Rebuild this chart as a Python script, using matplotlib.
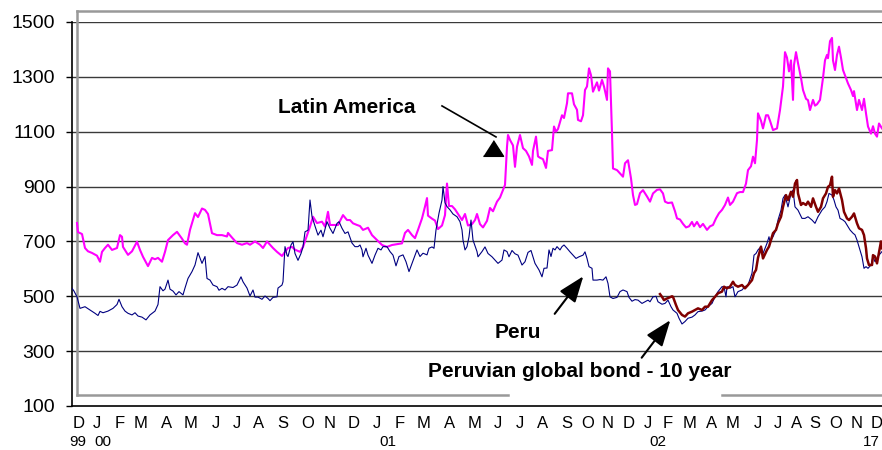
import matplotlib.pyplot as plt

plt.rcParams['font.family'] = ['Liberation Sans', 'DejaVu Sans']

# trading-day index and spread (bp) for each series
latam_day = [5, 6, 10, 13, 16, 20, 25, 28, 30, 33, 36, 40, 45, 48, 50, 51, 56, 60, 65, 68,
             71, 76, 80, 83, 86, 90, 93, 96, 101, 105, 110, 113, 115, 118, 123, 126, 130, 133, 136, 140,
             145, 148, 150, 155, 156, 160, 165, 170, 175, 178, 183, 188, 191, 195, 198, 201, 205, 210, 213, 216,
             220, 223, 228, 231, 235, 238, 241, 245, 250, 253, 256, 258, 261, 266, 271, 275, 278, 281, 285, 288,
             291, 293, 296, 300, 305, 310, 315, 320, 325, 330, 333, 336, 340, 343, 346, 350, 353, 355, 356, 360,
             363, 366, 370, 373, 375, 377, 380, 383, 386, 390, 393, 396, 400, 403, 405, 408, 411, 415, 418, 421,
             425, 428, 431, 433, 435, 436, 438, 441, 443, 445, 448, 451, 454, 457, 460, 461, 464, 466, 468, 471,
             474, 476, 480, 482, 484, 486, 490, 492, 495, 496, 500, 502, 505, 506, 509, 511, 513, 515, 517, 519,
             521, 525, 527, 530, 532, 535, 536, 538, 540, 541, 545, 548, 551, 553, 556, 559, 561, 563, 565, 568,
             571, 575, 578, 581, 585, 588, 591, 593, 596, 600, 603, 605, 608, 611, 614, 617, 620, 622, 625, 628,
             631, 635, 638, 641, 644, 647, 650, 653, 656, 658, 661, 665, 668, 671, 674, 676, 679, 681, 683, 685,
             686, 689, 691, 694, 696, 698, 701, 705, 708, 711, 713, 715, 717, 719, 721, 722, 724, 726, 729, 731,
             734, 736, 738, 741, 743, 745, 748, 751, 753, 755, 756, 758, 760, 761, 763, 765, 767, 769, 771, 774,
             776, 779, 781, 782, 785, 787, 790, 792, 794, 796, 799, 801, 803, 805, 807, 810]
latam_bp = [767, 734, 727, 676, 664, 658, 648, 626, 662, 676, 688, 669, 676, 723, 717, 680, 651, 664, 699, 669,
            644, 610, 640, 635, 640, 626, 662, 705, 723, 735, 710, 693, 688, 742, 803, 789, 820, 815, 800, 730,
            723, 723, 723, 718, 731, 714, 694, 688, 694, 688, 700, 688, 676, 700, 688, 676, 662, 647, 662, 676,
            680, 670, 662, 680, 723, 754, 790, 767, 772, 754, 808, 760, 760, 760, 796, 778, 778, 766, 760, 756,
            742, 745, 750, 723, 705, 687, 680, 687, 690, 693, 731, 742, 723, 712, 742, 784, 827, 858, 794, 783,
            776, 745, 758, 796, 911, 829, 829, 817, 800, 778, 800, 758, 763, 778, 800, 763, 751, 775, 822, 810,
            845, 860, 888, 906, 1045, 1088, 1070, 1050, 972, 1045, 1088, 1040, 1030, 1010, 979, 1030, 1082, 1010, 1005, 1000,
            968, 1030, 1033, 1119, 1100, 1110, 1160, 1150, 1204, 1240, 1240, 1200, 1180, 1143, 1138, 1160, 1252, 1265, 1331, 1306,
            1246, 1280, 1250, 1289, 1265, 1216, 1331, 1320, 1095, 966, 960, 948, 936, 985, 996, 930, 869, 833, 836, 876,
            887, 864, 845, 875, 888, 890, 875, 845, 840, 842, 810, 784, 780, 764, 751, 755, 771, 755, 771, 752,
            764, 742, 755, 760, 784, 803, 815, 833, 860, 833, 845, 876, 880, 880, 911, 960, 974, 1009, 985, 1070,
            1167, 1140, 1112, 1160, 1160, 1140, 1106, 1112, 1179, 1265, 1390, 1370, 1320, 1360, 1216, 1343, 1390, 1350, 1296, 1252,
            1220, 1215, 1179, 1216, 1195, 1200, 1216, 1296, 1360, 1380, 1368, 1430, 1442, 1360, 1325, 1380, 1410, 1370, 1325, 1296,
            1276, 1252, 1230, 1248, 1179, 1216, 1179, 1220, 1167, 1119, 1093, 1120, 1093, 1082, 1130, 1112]

peru_day = [0, 2, 5, 8, 13, 18, 23, 26, 28, 31, 36, 41, 45, 47, 50, 53, 56, 60, 63, 66,
            70, 74, 78, 83, 86, 88, 91, 93, 96, 98, 101, 104, 107, 111, 113, 116, 120, 123, 126, 130,
            133, 135, 138, 141, 145, 147, 150, 153, 156, 161, 165, 169, 171, 175, 178, 181, 183, 186, 190, 193,
            196, 198, 201, 205, 206, 210, 211, 213, 215, 216, 219, 221, 223, 226, 229, 231, 233, 236, 238, 240,
            243, 246, 249, 251, 255, 258, 261, 265, 267, 270, 273, 276, 280, 283, 286, 288, 290, 291, 294, 296,
            300, 303, 306, 309, 311, 315, 318, 321, 324, 327, 331, 334, 337, 340, 343, 345, 348, 351, 355, 357,
            360, 362, 364, 367, 370, 371, 373, 375, 378, 381, 385, 388, 390, 391, 393, 395, 397, 399, 401, 405,
            406, 410, 413, 416, 420, 423, 426, 430, 432, 435, 437, 440, 443, 446, 450, 453, 456, 459, 461, 463,
            465, 467, 470, 472, 475, 477, 479, 481, 483, 485, 488, 490, 492, 495, 498, 501, 504, 507, 511, 513,
            515, 517, 520, 521, 525, 528, 531, 534, 536, 538, 541, 545, 548, 551, 555, 557, 560, 563, 566, 570,
            573, 576, 578, 581, 584, 586, 590, 593, 596, 599, 601, 605, 607, 610, 613, 616, 620, 623, 626, 630,
            633, 636, 640, 643, 646, 650, 652, 654, 655, 658, 661, 663, 666, 670, 673, 676, 680, 682, 684, 686,
            689, 691, 695, 697, 698, 701, 704, 706, 709, 711, 713, 715, 716, 719, 721, 723, 726, 730, 733, 736,
            740, 743, 746, 750, 753, 755, 757, 760, 762, 764, 766, 768, 771, 773, 775, 778, 781, 783, 785, 787,
            790, 792, 794, 796, 799, 801, 803, 805, 807, 810]
peru_bp = [529, 519, 498, 456, 462, 450, 438, 430, 445, 440, 446, 456, 470, 489, 462, 446, 438, 432, 440, 428,
           424, 414, 432, 446, 470, 535, 520, 526, 559, 526, 519, 505, 517, 505, 530, 565, 590, 614, 659, 620,
           645, 565, 559, 541, 535, 522, 529, 523, 535, 532, 541, 571, 553, 530, 501, 523, 497, 497, 489, 501,
           492, 484, 496, 498, 530, 541, 553, 681, 650, 645, 687, 699, 656, 631, 656, 680, 735, 741, 851, 791,
           756, 723, 741, 717, 772, 748, 729, 766, 772, 748, 729, 735, 694, 681, 681, 687, 669, 644, 675, 650,
           620, 650, 675, 669, 681, 681, 663, 650, 611, 645, 651, 626, 590, 620, 651, 669, 645, 657, 651, 675,
           680, 675, 742, 803, 851, 900, 841, 827, 815, 800, 790, 772, 742, 705, 669, 681, 717, 778, 705, 663,
           644, 663, 680, 656, 644, 632, 620, 632, 669, 663, 644, 667, 655, 650, 614, 626, 660, 667, 644, 620,
           608, 596, 571, 602, 603, 669, 645, 675, 669, 681, 669, 681, 687, 675, 662, 650, 638, 644, 650, 662,
           638, 608, 602, 559, 559, 561, 559, 571, 547, 498, 492, 496, 517, 523, 517, 496, 482, 488, 486, 474,
           480, 486, 480, 498, 500, 480, 471, 474, 486, 462, 450, 438, 420, 399, 408, 420, 424, 432, 444, 446,
           450, 462, 474, 498, 517, 535, 535, 498, 535, 529, 535, 498, 517, 523, 535, 541, 584, 650, 656, 669,
           681, 656, 693, 717, 699, 717, 742, 778, 814, 857, 869, 840, 826, 875, 887, 826, 814, 784, 784, 790,
           778, 766, 790, 814, 826, 845, 875, 869, 851, 826, 814, 784, 778, 772, 760, 742, 730, 724, 705, 681,
           644, 602, 608, 602, 614, 645, 626, 638, 650, 663]

bond_day = [588, 590, 592, 595, 597, 600, 601, 604, 606, 610, 613, 616, 620, 623, 626, 630, 633, 636, 640, 643,
            646, 650, 652, 655, 658, 661, 663, 666, 670, 673, 676, 680, 682, 684, 686, 689, 691, 695, 697, 698,
            701, 704, 706, 709, 711, 714, 716, 719, 721, 723, 725, 726, 729, 731, 734, 736, 739, 741, 744, 746,
            749, 751, 754, 756, 758, 760, 761, 763, 765, 767, 770, 772, 775, 777, 780, 782, 785, 787, 790, 792,
            794, 795, 797, 800, 801, 803, 805, 807, 809, 810]
bond_bp = [508, 498, 486, 492, 495, 500, 498, 468, 450, 432, 426, 438, 444, 450, 456, 450, 462, 462, 486, 498,
           511, 517, 535, 529, 535, 553, 541, 535, 541, 529, 541, 559, 584, 596, 640, 681, 638, 669, 681, 693,
           730, 742, 766, 790, 826, 869, 851, 881, 863, 911, 924, 875, 833, 840, 833, 845, 826, 857, 826, 808,
           826, 857, 875, 899, 905, 936, 863, 887, 875, 893, 851, 808, 784, 778, 790, 802, 766, 748, 742, 723,
           675, 638, 614, 614, 650, 645, 620, 660, 700, 675]

# month initials and the trading day each one sits on
months = ['D', 'J', 'F', 'M', 'A', 'M', 'J', 'J', 'A', 'S', 'O', 'N',
          'D', 'J', 'F', 'M', 'A', 'M', 'J', 'J', 'A', 'S', 'O', 'N',
          'D', 'J', 'F', 'M', 'A', 'M', 'J', 'J', 'A', 'S', 'O', 'N', 'D']
month_day = [7, 25, 48, 69, 95, 119, 144, 165, 187, 211, 236, 258,
             282, 305, 328, 352, 378, 403, 426, 448, 471, 495, 516, 536,
             557, 576, 596, 618, 640, 661, 686, 706, 725, 743, 764, 785, 805]
years = ['99', '00', '01', '02', '17']
year_day = [6, 31, 316, 586, 799]

fig = plt.figure(figsize=(8.82, 4.5), dpi=100)
ax = fig.add_axes([72 / 882, 44 / 450, 810 / 882, 384 / 450])

ax.plot(latam_day, latam_bp, color='#FF00FF', lw=1.5, zorder=3)
ax.plot(peru_day, peru_bp, color='#000080', lw=0.8, zorder=4)
ax.plot(bond_day, bond_bp, color='#800000', lw=1.8, zorder=5)

ax.set_xlim(0, 810)
ax.set_ylim(100, 1500)
ax.set_yticks(range(100, 1501, 200))
ax.tick_params(axis='y', labelsize=14, length=4, width=1, pad=8)
ax.set_xticks(month_day)
ax.set_xticklabels(months)
ax.tick_params(axis='x', labelsize=12, length=0, pad=7)
for y in range(300, 1501, 200):
    ax.axhline(y, color='#3a3a3a', lw=1, zorder=1)

for s in ['top', 'right']:
    ax.spines[s].set_visible(False)
for s in ['left', 'bottom']:
    ax.spines[s].set_linewidth(1.2)

for lab, d in zip(years, year_day):
    ax.text(d, -0.093, lab, transform=ax.get_xaxis_transform(),
            ha='center', va='center', fontsize=11)

# grey plot-area frame
frame = dict(color='#999999', lw=1.8, clip_on=False, zorder=2)
ax.plot([4.5, 4.5], [140, 1540], **frame)
ax.plot([4.5, 812], [1540, 1540], **frame)
ax.plot([4.5, 436], [140, 140], **frame)
ax.plot([650, 812], [140, 140], **frame)

# labels and arrows
ax.text(206, 1168, 'Latin America', fontsize=15, fontweight='bold')
ax.plot([370, 424], [1194, 1081], color='black', lw=1.2, zorder=6)
ax.plot(421, 1041, marker=[(-1, -0.78), (1, -0.78), (0, 0.78)], ms=14.5,
        color='black', zorder=6)

ax.text(423, 348, 'Peru', fontsize=15, fontweight='bold')
ax.annotate('', xy=(513, 581), xytext=(481, 428),
            arrowprops=dict(arrowstyle='-|>,head_length=0.8,head_width=0.3',
                            color='black', lw=1.5, mutation_scale=20), zorder=6)

ax.text(356, 206, 'Peruvian global bond - 10 year', fontsize=15, fontweight='bold')
ax.annotate('', xy=(600, 421), xytext=(568, 268),
            arrowprops=dict(arrowstyle='-|>,head_length=0.8,head_width=0.3',
                            color='black', lw=1.5, mutation_scale=20), zorder=6)

fig.savefig('out.png', dpi=100)
